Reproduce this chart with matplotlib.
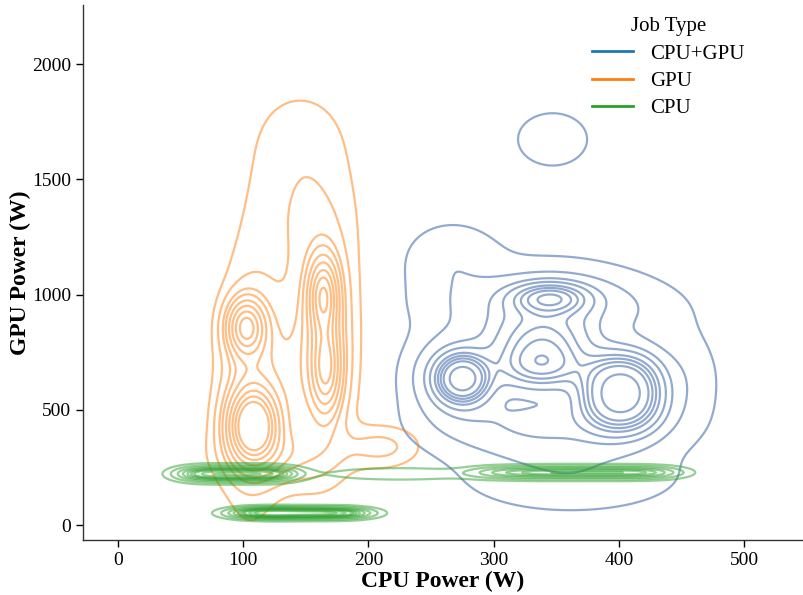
import numpy as np
import matplotlib
matplotlib.use("Agg")
import matplotlib.pyplot as plt
from matplotlib.lines import Line2D

# ---------------- data ----------------
job_types = ["CPU+GPU", "GPU", "CPU"]
legend_colors = ["#1f77b4", "#ff7f0e", "#2ca02c"]
line_colors = ["#4c72b0", "#ff7f0e", "#2ca02c"]
line_alpha = [0.6, 0.5, 0.5]

# density components per job type: centre (W), spread (W), weight
cpugpu_cx = [275, 272, 345, 325, 352, 338, 392, 412, 392, 412, 340, 345, 345, 347, 365, 265, 455]
cpugpu_cy = [635, 640, 985, 775, 775, 680, 520, 520, 630, 630, 430, 950, 720, 1675, 200, 1150, 620]
cpugpu_sx = [12, 22, 20, 20, 20, 22, 16, 16, 16, 16, 55, 55, 60, 22, 60, 25, 18]
cpugpu_sy = [60, 110, 45, 100, 100, 60, 80, 80, 80, 80, 90, 90, 290, 90, 100, 110, 150]
cpugpu_w = [0.07, 0.07, 0.05, 0.06, 0.06, 0.04, 0.06, 0.06, 0.06, 0.06,
            0.08, 0.07, 0.14, 0.014, 0.04, 0.02, 0.015]

gpu_cx = [108, 102, 166, 164, 105, 165, 135, 145, 130, 210, 145]
gpu_cy = [430, 860, 680, 1000, 600, 800, 650, 1350, 300, 340, 1700]
gpu_sx = [13, 10, 8, 8, 15, 15, 20, 30, 30, 20, 28]
gpu_sy = [100, 80, 130, 110, 300, 300, 250, 220, 80, 60, 160]
gpu_w = [0.18, 0.07, 0.08, 0.08, 0.15, 0.15, 0.10, 0.08, 0.05, 0.02, 0.03]

cpu_cx = [65, 85, 105, 125, 110, 130, 155, 180, 305, 335, 365, 395, 425, 225]
cpu_cy = [222, 222, 222, 222, 52, 52, 52, 52, 228, 228, 228, 228, 228, 222]
cpu_sx = [14, 14, 14, 14, 16, 16, 16, 16, 18, 18, 18, 18, 18, 45]
cpu_sy = [20, 20, 20, 20, 15, 15, 15, 15, 17, 17, 17, 17, 17, 20]
cpu_w = [0.08, 0.08, 0.08, 0.08, 0.08, 0.08, 0.08, 0.08, 0.05, 0.07, 0.07, 0.07, 0.07, 0.06]

components = [
    (cpugpu_cx, cpugpu_cy, cpugpu_sx, cpugpu_sy, cpugpu_w),
    (gpu_cx, gpu_cy, gpu_sx, gpu_sy, gpu_w),
    (cpu_cx, cpu_cy, cpu_sx, cpu_sy, cpu_w),
]

x_ticks = [0, 100, 200, 300, 400, 500]
y_ticks = [0, 500, 1000, 1500, 2000]

# ---------------- density grids ----------------
gx = np.linspace(-30, 550, 400)
gy = np.linspace(-70, 2260, 400)
X, Y = np.meshgrid(gx, gy)


def mixture(cx, cy, sx, sy, w):
    w = np.asarray(w, float)
    w = w / w.sum()
    d = np.zeros_like(X)
    for a, b, s, t, k in zip(cx, cy, sx, sy, w):
        d += k * np.exp(-0.5 * (((X - a) / s) ** 2 + ((Y - b) / t) ** 2)) / (2 * np.pi * s * t)
    return d


def iso_levels(d, n=10, thresh=0.05):
    iso = np.linspace(thresh, 1, n)
    sv = np.sort(d.ravel())[::-1]
    cum = np.cumsum(sv) / sv.sum()
    idx = np.searchsorted(cum, 1 - iso)
    lv = np.unique(np.take(sv, idx, mode="clip"))
    return lv[lv < sv[0]]


densities = [mixture(*comp) for comp in components]

# ---------------- figure ----------------
plt.rcParams["font.family"] = ["Liberation Serif", "DejaVu Serif"]
fig = plt.figure(figsize=(8.04, 5.95), dpi=100)
ax = fig.add_axes([83 / 804, 55 / 595, 720 / 804, 535 / 595])

for d, c, a in zip(densities, line_colors, line_alpha):
    ax.contour(X, Y, d, levels=iso_levels(d), colors=[c], alpha=a, linewidths=1.6)

ax.set_xlim(-28, 547)
ax.set_ylim(-65, 2257)
ax.set_xticks(x_ticks)
ax.set_yticks(y_ticks)
ax.tick_params(labelsize=14, length=5, width=1, direction="out")
for side in ["top", "right"]:
    ax.spines[side].set_visible(False)
for side in ["left", "bottom"]:
    ax.spines[side].set_linewidth(1.0)
    ax.spines[side].set_color("#333333")

ax.set_xlabel("CPU Power (W)", fontsize=17, fontweight="bold", labelpad=1.5)
ax.set_ylabel("GPU Power (W)", fontsize=17, fontweight="bold", labelpad=1)

handles = [Line2D([0], [0], color=c, lw=2) for c in legend_colors]
leg = ax.legend(handles, job_types, title="Job Type", loc="upper right",
                bbox_to_anchor=(0.945, 1.012), frameon=False, fontsize=15,
                title_fontsize=15, handlelength=2.0, labelspacing=0.37)

fig.savefig("out.png", dpi=100)
